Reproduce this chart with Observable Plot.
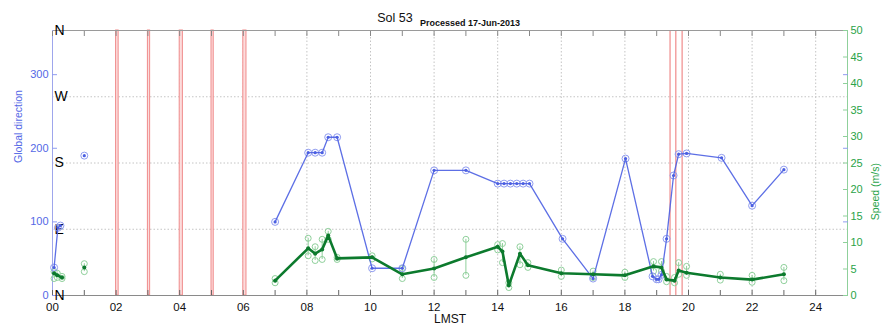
<!DOCTYPE html>
<html>
<head>
<meta charset="utf-8">
<script src="https://cdn.jsdelivr.net/npm/d3@7"></script>
<script src="https://cdn.jsdelivr.net/npm/@observablehq/plot@0.6"></script>
<style>
  html, body { margin: 0; padding: 0; background: #fff; }
  #chart { width: 886px; height: 330px; }
</style>
</head>
<body>
<div id="chart"></div>
<script>
// ---- Data ----
const title = "Sol 53";
const subtitle = "Processed 17-Jun-2013";
const xLabel = "LMST";
const leftLabel = "Global direction";
const rightLabel = "Speed (m/s)";

const hourTicks = [0,1,2,3,4,5,6,7,8,9,10,11,12,13,14,15,16,17,18,19,20,21,22,23,24];
const hourLabels = [0,2,4,6,8,10,12,14,16,18,20,22,24];
const directionTicks = [0, 100, 200, 300];
const speedTicks = [0, 5, 10, 15, 20, 25, 30, 35, 40, 45, 50];
const compassDeg = [0, 90, 180, 270, 360];
const compassLabels = ["N", "E", "S", "W", "N"];
const gridDeg = [90, 180, 270];

// red marker bands / lines (LMST hours)
const bandStart = [2.0, 3.0, 4.0, 5.0, 6.0];
const bandEnd   = [2.08, 3.07, 4.1, 5.07, 6.1];
const markerLines = [19.42, 19.6, 19.8];

// wind direction (deg)
const dirHour = [0.05, 0.17, 0.25, 1.0, 7.0, 8.04, 8.26, 8.48, 8.67, 8.95, 10.05, 11.0, 12.0, 13.0, 14.0, 14.2, 14.4, 14.6, 14.8, 15.0, 16.04, 17.0, 18.02, 18.87, 19.0, 19.06, 19.15, 19.31, 19.53, 19.69, 19.94, 21.04, 22.0, 23.0];
const dirValue = [38, 92, 95, 190, 100, 194, 194, 194, 215, 215, 37, 37, 170, 170, 152, 152, 152, 152, 152, 152, 77, 23, 186, 26, 22, 22, 28, 77, 163, 192, 193, 187, 122, 171];
const dirRun   = [1, 1, 1, 2, 3, 3, 3, 3, 3, 3, 3, 3, 3, 3, 3, 3, 3, 3, 3, 3, 3, 3, 3, 3, 3, 3, 3, 3, 3, 3, 3, 3, 3, 3];

// wind speed (m/s) with min / max
const spdHour  = [0.05, 0.15, 0.3, 1.0, 7.0, 8.04, 8.26, 8.48, 8.67, 8.95, 10.05, 11.0, 12.0, 13.0, 14.0, 14.15, 14.35, 14.7, 14.95, 16.0, 17.0, 18.0, 18.9, 19.15, 19.31, 19.56, 19.69, 19.94, 21.0, 22.0, 23.0];
const spdValue = [4.2, 3.8, 3.4, 5.3, 2.8, 8.9, 7.9, 8.7, 11.3, 7.0, 7.2, 4.0, 5.1, 7.2, 9.2, 8.3, 1.9, 7.9, 5.7, 4.2, 4.0, 3.8, 5.5, 5.3, 3.0, 2.8, 4.7, 4.3, 3.4, 3.0, 4.0];
const spdMin   = [3.2, 3.4, 3.2, 4.5, 2.4, 7.5, 6.6, 6.8, 10.6, 6.8, 6.9, 3.2, 3.4, 3.8, 8.6, 6.2, 1.5, 5.8, 5.3, 3.6, 3.4, 3.4, 4.6, 4.6, 2.6, 2.4, 4.0, 3.8, 2.9, 2.5, 2.8];
const spdMax   = [4.5, 4.2, 3.6, 6.0, 3.2, 10.8, 9.2, 10.6, 12.1, 7.2, 7.5, 5.1, 6.8, 10.6, 9.6, 9.8, 2.4, 9.2, 6.2, 4.8, 4.6, 4.4, 6.4, 6.4, 3.6, 3.4, 6.2, 5.5, 4.0, 3.8, 5.3];
const spdRun   = [1, 1, 1, 2, 3, 3, 3, 3, 3, 3, 3, 3, 3, 3, 3, 3, 3, 3, 3, 3, 3, 3, 3, 3, 3, 3, 3, 3, 3, 3, 3];

// ---- Build tables ----
const k = 360 / 50; // speed -> direction scale factor (dual axis)
const dirData = dirHour.map((h, i) => ({hour: h, dir: dirValue[i], run: dirRun[i]}));
const spdData = spdHour.map((h, i) => ({hour: h, s: spdValue[i] * k, lo: spdMin[i] * k, hi: spdMax[i] * k, run: spdRun[i]}));
const bands = bandStart.map((s, i) => ({s, e: bandEnd[i]}));
const compass = compassDeg.map((d, i) => ({d, t: compassLabels[i]}));

const blue = "#4b5fe2";
const blueLight = "#909cf0";
const blueText = "#5468e6";
const green = "#0c7a2d";
const greenLight = "#8fd09b";
const greenText = "#2aa348";
const pad2 = d => String(d).padStart(2, "0");

const chart = Plot.plot({
  width: 886,
  height: 330,
  marginLeft: 52,
  marginRight: 39,
  marginTop: 30,
  marginBottom: 35,
  style: {fontFamily: "'Liberation Sans', Arial, sans-serif", fontSize: "11px", background: "#fff"},
  x: {domain: [0, 25]},
  y: {domain: [0, 360]},
  marks: [
    // grid
    Plot.gridX(hourLabels.slice(1), {stroke: "#c4c4c4", strokeOpacity: 1, strokeDasharray: "1.5,2"}),
    Plot.gridY(gridDeg, {stroke: "#c4c4c4", strokeOpacity: 1, strokeDasharray: "1.5,2"}),
    // red markers
    Plot.rect(bands, {x1: "s", x2: "e", fill: "#fcdcdc", stroke: "#f08c8c", strokeWidth: 1}),
    Plot.ruleX(markerLines, {stroke: "#f29c9c", strokeWidth: 1.4}),
    // frame edges
    Plot.ruleY([0], {stroke: "#8a8a8a"}),
    Plot.ruleY([360], {stroke: "#9a9a9a"}),
    Plot.ruleX([0], {stroke: "#9ea6ec"}),
    Plot.ruleX([25], {stroke: "#8fd09b"}),
    // x axis ticks (inward) and labels
    Plot.axisX(hourTicks, {anchor: "bottom", tickSize: 5, dy: -5, text: null, stroke: "#666", label: null}),
    Plot.axisX(hourTicks, {anchor: "top", tickSize: 5, dy: 5, text: null, stroke: "#888", label: null}),
    Plot.axisX(hourLabels, {anchor: "bottom", tickSize: 0, tickPadding: 7, tickFormat: pad2, fill: "#111", fontSize: 11.5, label: null}),
    // left direction axis
    Plot.axisY(directionTicks, {anchor: "left", tickSize: 5, dx: 5, text: null, stroke: blueLight, label: null}),
    Plot.axisY(directionTicks, {anchor: "left", tickSize: 0, tickPadding: 4, fill: blueText, fontSize: 11, label: null}),
    Plot.axisY(directionTicks.slice(1), {anchor: "right", tickSize: 5, dx: -5, text: null, stroke: blueLight, label: null}),
    // right speed axis
    Plot.axisY(speedTicks.map(s => s * k), {anchor: "right", tickSize: 5, dx: -5, text: null, stroke: greenLight, label: null}),
    Plot.axisY(speedTicks.map(s => s * k), {anchor: "right", tickSize: 0, tickPadding: 3, tickFormat: d => String(Math.round(d / k)), fill: greenText, fontSize: 11, label: null}),
    // compass letters
    Plot.text(compass, {y: "d", text: "t", frameAnchor: "left", dx: 2, textAnchor: "start", fontSize: 14, fill: "#000"}),
    // speed error bars
    Plot.ruleX(spdData, {x: "hour", y1: "lo", y2: "hi", stroke: greenLight, strokeWidth: 1}),
    Plot.dot(spdData, {x: "hour", y: "lo", r: 3, stroke: greenLight, fill: "none", strokeWidth: 1}),
    Plot.dot(spdData, {x: "hour", y: "hi", r: 3, stroke: greenLight, fill: "none", strokeWidth: 1}),
    // direction series
    Plot.dot(dirData, {x: "hour", y: "dir", r: 3.5, stroke: blueLight, fill: "none", strokeWidth: 1}),
    Plot.line(dirData, {x: "hour", y: "dir", z: "run", stroke: blue, strokeWidth: 1.3, strokeOpacity: 0.9}),
    Plot.dot(dirData, {x: "hour", y: "dir", r: 1.6, fill: blue}),
    // speed series
    Plot.line(spdData, {x: "hour", y: "s", z: "run", stroke: green, strokeWidth: 2.6}),
    Plot.dot(spdData, {x: "hour", y: "s", r: 2, fill: green}),
    // titles and axis labels
    Plot.text([title], {frameAnchor: "top", dx: -55, dy: -17, fontSize: 12.5, fill: "#111"}),
    Plot.text([subtitle], {frameAnchor: "top", dx: 20, dy: -11, fontSize: 9, fontWeight: "bold", fill: "#111"}),
    Plot.text([xLabel], {frameAnchor: "bottom", dy: 27, fontSize: 12, fill: "#111"}),
    Plot.text([leftLabel], {frameAnchor: "left", dx: -34, rotate: -90, fontSize: 10.5, fill: blueText}),
    Plot.text([rightLabel], {frameAnchor: "right", dx: 28, rotate: -90, fontSize: 10.5, fill: greenText})
  ]
});
document.getElementById("chart").appendChild(chart);
</script>
</body>
</html>
